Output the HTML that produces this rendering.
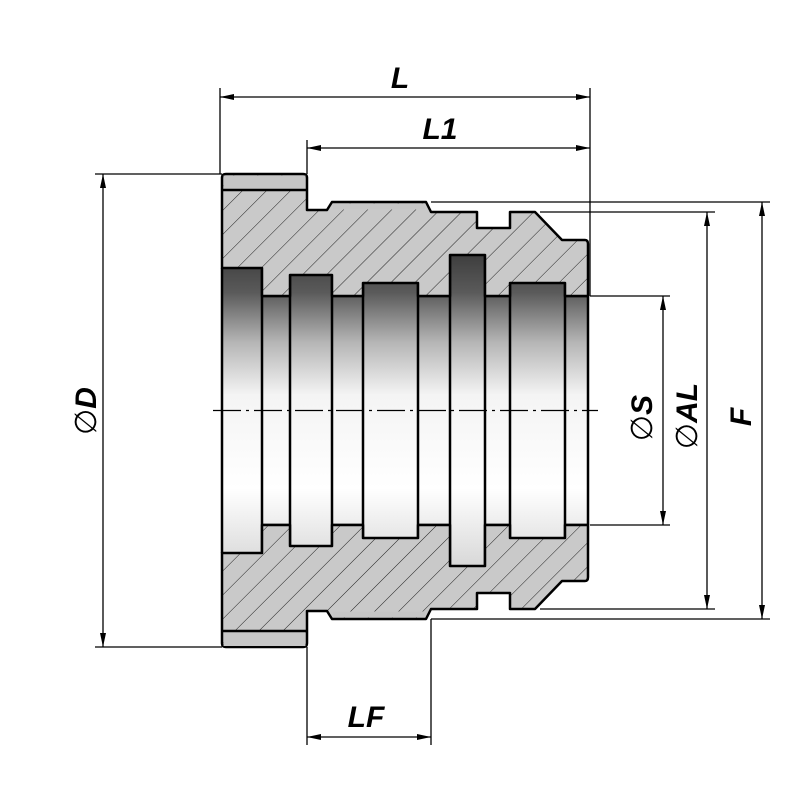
<!DOCTYPE html>
<html><head><meta charset="utf-8"><style>
html,body{margin:0;padding:0;background:#fff;}
svg{display:block;}
text{font-family:"Liberation Sans","DejaVu Sans",sans-serif;font-weight:bold;font-style:italic;fill:#000;}
</style></head><body>
<svg width="800" height="800" viewBox="0 0 800 800" xmlns="http://www.w3.org/2000/svg">
<defs>
<pattern id="h" patternUnits="userSpaceOnUse" width="17" height="17" patternTransform="rotate(45)">
<rect width="17" height="17" fill="#c9c9c9"/>
<line x1="0" y1="0" x2="0" y2="17" stroke="#222" stroke-width="1"/>
</pattern>
<linearGradient id="bore" x1="0" y1="255" x2="0" y2="566" gradientUnits="userSpaceOnUse">
<stop offset="0" stop-color="#3e3e3e"/>
<stop offset="0.12" stop-color="#5a5a5a"/>
<stop offset="0.28" stop-color="#b5b5b5"/>
<stop offset="0.45" stop-color="#f4f4f4"/>
<stop offset="0.75" stop-color="#ffffff"/>
<stop offset="1" stop-color="#d8d8d8"/>
</linearGradient>
<marker id="a" viewBox="0 0 14 6" refX="14" refY="3" markerWidth="14" markerHeight="6" markerUnits="userSpaceOnUse" orient="auto-start-reverse">
<path d="M0,0 L14,3 L0,6 Z" fill="#000"/>
</marker>
</defs>

<rect x="222" y="255" width="366" height="311" fill="url(#bore)"/>
<g fill="none" stroke="#000" stroke-width="2.5">
<line x1="262" y1="296" x2="290" y2="296"/><line x1="332" y1="296" x2="363" y2="296"/>
<line x1="418" y1="296" x2="450" y2="296"/><line x1="485" y1="296" x2="510" y2="296"/>
<line x1="565" y1="296" x2="588" y2="296"/>
<line x1="262" y1="525" x2="290" y2="525"/><line x1="332" y1="525" x2="363" y2="525"/>
<line x1="418" y1="525" x2="450" y2="525"/><line x1="485" y1="525" x2="510" y2="525"/>
<line x1="565" y1="525" x2="588" y2="525"/>
<path d="M262,268 V553 M290,275 V546 M332,275 V546 M363,283 V538 M418,283 V538 M450,255 V566 M485,255 V566 M510,283 V538 M565,283 V538 M222,268 V553 M588,296 V525"/>
</g>

<path d="M222,178 Q222,174 226,174 L303,174 Q307,174 307,178 L307,210 L327,210 L332,202 L426,202 L431,212 L477,212 L477,228 L510,228 L510,212 L535,212 L562,240 L585,240 Q588,240 588,244 L588,296 L565,296 L565,283 L510,283 L510,296 L485,296 L485,255 L450,255 L450,296 L418,296 L418,283 L363,283 L363,296 L332,296 L332,275 L290,275 L290,296 L262,296 L262,268 L222,268 Z" fill="url(#h)" stroke="#000" stroke-width="2.5" stroke-linejoin="round"/>
<path d="M222,643 Q222,647 226,647 L303,647 Q307,647 307,643 L307,611 L327,611 L332,619 L426,619 L431,609 L477,609 L477,593 L510,593 L510,609 L535,609 L562,581 L585,581 Q588,581 588,577 L588,525 L565,525 L565,538 L510,538 L510,525 L485,525 L485,566 L450,566 L450,525 L418,525 L418,538 L363,538 L363,525 L332,525 L332,546 L290,546 L290,525 L262,525 L262,553 L222,553 Z" fill="url(#h)" stroke="#000" stroke-width="2.5" stroke-linejoin="round"/>
<rect x="223.5" y="175.5" width="82" height="14" fill="#c6c6c6"/>
<rect x="223.5" y="632" width="82" height="14" fill="#c6c6c6"/>
<rect x="333" y="203.5" width="92" height="6" fill="#c6c6c6"/>
<rect x="333" y="611.5" width="92" height="6" fill="#c6c6c6"/>
<g stroke="#000" stroke-width="2.5"><line x1="222" y1="190" x2="307" y2="190"/><line x1="222" y1="631" x2="307" y2="631"/></g>

<line x1="213" y1="410.5" x2="598" y2="410.5" stroke="#000" stroke-width="1.2" stroke-dasharray="28,5,3,5"/>

<g stroke="#000" stroke-width="1.3" fill="none">
<line x1="220" y1="88" x2="220" y2="174"/>
<line x1="590" y1="88" x2="590" y2="296"/>
<line x1="307" y1="140" x2="307" y2="174"/>
<line x1="95" y1="174" x2="222" y2="174"/>
<line x1="95" y1="647" x2="222" y2="647"/>
<line x1="590" y1="296" x2="670" y2="296"/>
<line x1="590" y1="525" x2="670" y2="525"/>
<line x1="540" y1="212" x2="715" y2="212"/>
<line x1="540" y1="609" x2="715" y2="609"/>
<line x1="431" y1="202" x2="770" y2="202"/>
<line x1="431" y1="619" x2="770" y2="619"/>
<line x1="307" y1="647" x2="307" y2="745"/>
<line x1="431" y1="619" x2="431" y2="745"/>
</g>
<g stroke="#000" stroke-width="1.3" fill="none" marker-start="url(#a)" marker-end="url(#a)">
<line x1="220" y1="97" x2="590" y2="97"/>
<line x1="307" y1="148" x2="590" y2="148"/>
<line x1="103" y1="174" x2="103" y2="647"/>
<line x1="663" y1="296" x2="663" y2="525"/>
<line x1="707" y1="212" x2="707" y2="609"/>
<line x1="762" y1="202" x2="762" y2="619"/>
<line x1="307" y1="737" x2="431" y2="737"/>
</g>

<text x="400" y="88" font-size="30" text-anchor="middle">L</text>
<text x="440" y="139" font-size="30" text-anchor="middle">L1</text>
<text x="366" y="727" font-size="30" text-anchor="middle">LF</text>
<text transform="translate(96,411) rotate(-90)" font-size="30" text-anchor="middle"><tspan font-style="normal" font-weight="normal" font-family="DejaVu Sans">∅</tspan>D</text>
<text transform="translate(652,418) rotate(-90)" font-size="30" text-anchor="middle"><tspan font-style="normal" font-weight="normal" font-family="DejaVu Sans">∅</tspan>S</text>
<text transform="translate(697,416) rotate(-90)" font-size="30" text-anchor="middle"><tspan font-style="normal" font-weight="normal" font-family="DejaVu Sans">∅</tspan>AL</text>
<text transform="translate(751,417) rotate(-90)" font-size="30" text-anchor="middle">F</text>
</svg>
</body></html>
